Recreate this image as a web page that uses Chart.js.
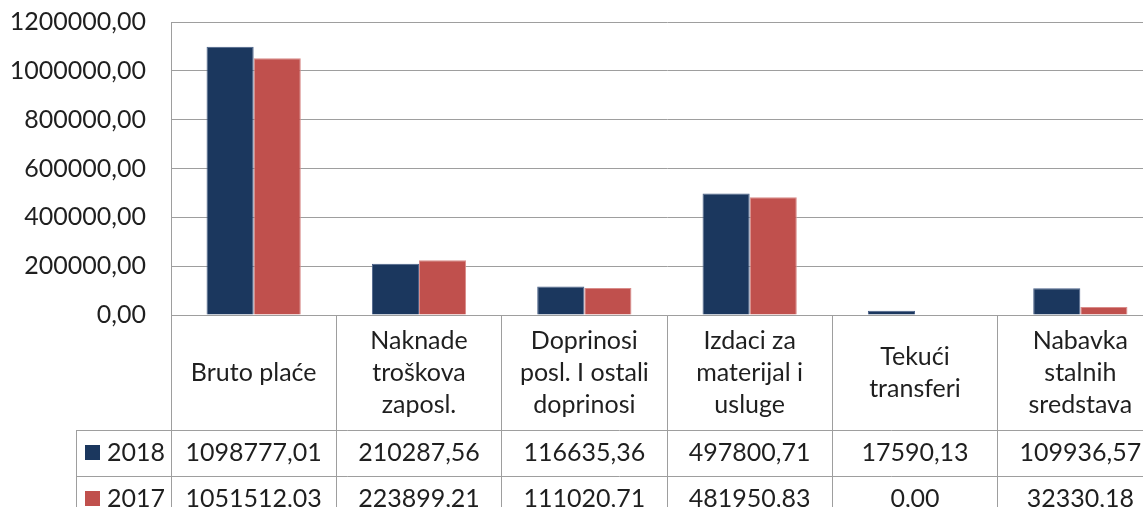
<!DOCTYPE html>
<html>
<head>
<meta charset="utf-8">
<script src="https://cdn.jsdelivr.net/npm/chart.js@4.4.1/dist/chart.umd.min.js"></script>
<style>
  html, body { margin: 0; padding: 0; background: #fff; overflow: hidden; }
  #wrap { width: 1163px; height: 507px; }
</style>
</head>
<body>
<div id="wrap"><canvas id="budgetChart" width="1163" height="507"></canvas></div>
<script>
// podaci
var categories = [
    ["Bruto plaće"],
    ["Naknade", "troškova", "zaposl."],
    ["Doprinosi", "posl. I ostali", "doprinosi"],
    ["Izdaci za", "materijal i", "usluge"],
    ["Tekući", "transferi"],
    ["Nabavka", "stalnih", "sredstava"]
];
var seriesNames = ["2018", "2017"];
var values2018 = [1098777.01, 210287.56, 116635.36, 497800.71, 17590.13, 109936.57];
var values2017 = [1051512.03, 223899.21, 111020.71, 481950.83, 0.00, 32330.18];
var yTicks = [0, 200000, 400000, 600000, 800000, 1000000, 1200000];

var navy = "#1b375e";
var red = "#c0504d";
var lineGray = "#9e9e9e";
var textColor = "#1f1f1f";
var fontFamily = "Lato, 'Open Sans', sans-serif";
var fontSize = 25;

function fmt(v) {
    return v.toFixed(2).replace(".", ",");
}

// tablica podataka ispod grafa
var dataTable = {
    id: "dataTable",
    afterDraw: function (chart) {
        var ctx = chart.ctx;
        var x = chart.scales.x;
        var area = chart.chartArea;
        var rowTop = 430, rowH = 46, legendLeft = 76;
        var rows = [values2018, values2017];
        var colors = [navy, red];

        ctx.save();
        ctx.strokeStyle = lineGray;
        ctx.lineWidth = 1;
        ctx.beginPath();
        ctx.moveTo(legendLeft, rowTop + 0.5);
        ctx.lineTo(area.right, rowTop + 0.5);
        ctx.moveTo(legendLeft, rowTop + rowH + 0.5);
        ctx.lineTo(area.right, rowTop + rowH + 0.5);
        ctx.moveTo(legendLeft + 0.5, rowTop);
        ctx.lineTo(legendLeft + 0.5, chart.height);
        ctx.stroke();

        ctx.fillStyle = textColor;
        ctx.font = fontSize + "px " + fontFamily;
        ctx.textAlign = "center";
        ctx.textBaseline = "middle";

        // nazivi kategorija
        var labelMid = (area.bottom + rowTop) / 2;
        var lineH = 32;
        categories.forEach(function (lines, i) {
            var cx = x.getPixelForValue(i);
            var y0 = labelMid - (lines.length - 1) * lineH / 2;
            lines.forEach(function (t, j) {
                ctx.fillText(t, cx, y0 + j * lineH);
            });
        });

        // vrijednosti i legenda
        rows.forEach(function (vals, r) {
            var cy = rowTop + rowH * r + rowH / 2;
            ctx.textAlign = "center";
            ctx.fillStyle = textColor;
            vals.forEach(function (v, i) {
                ctx.fillText(fmt(v), x.getPixelForValue(i), cy);
            });
            ctx.fillStyle = colors[r];
            ctx.fillRect(85, cy - 8, 15, 15);
            ctx.fillStyle = textColor;
            ctx.textAlign = "left";
            ctx.fillText(seriesNames[r], 107, cy);
        });
        ctx.restore();
    }
};

var config = {
    type: "bar",
    data: {
        labels: categories.map(function (c) { return c.join(" "); }),
        datasets: [{
            label: seriesNames[0],
            data: values2018,
            backgroundColor: navy,
            borderColor: "#4a6188",
            borderWidth: 1
        }, {
            label: seriesNames[1],
            data: values2017,
            backgroundColor: red,
            borderColor: "#d98b89",
            borderWidth: 1
        }]
    },
    options: {
        responsive: false,
        animation: false,
        layout: { padding: { top: 22, right: 0, left: 0, bottom: 0 } },
        categoryPercentage: 0.57,
        barPercentage: 1.0,
        plugins: {
            legend: { display: false },
            tooltip: { enabled: false }
        },
        scales: {
            x: {
                ticks: { display: false },
                grid: {
                    offset: true,
                    drawOnChartArea: false,
                    drawTicks: true,
                    tickLength: 192,
                    color: lineGray,
                    lineWidth: 1
                },
                border: { display: true, color: lineGray, width: 1 },
                afterFit: function (scale) {
                    scale.height = 192;
                    scale.paddingLeft = 0;
                    scale.paddingRight = 0;
                }
            },
            y: {
                min: 0,
                max: 1200000,
                afterBuildTicks: function (scale) {
                    scale.ticks = yTicks.map(function (v) { return { value: v }; });
                },
                ticks: {
                    color: textColor,
                    font: { family: fontFamily, size: fontSize },
                    padding: 25,
                    callback: function (v) { return fmt(v); }
                },
                grid: { color: lineGray, lineWidth: 1, drawTicks: false },
                border: { display: true, color: lineGray, width: 1 },
                afterFit: function (scale) {
                    scale.width = 171;
                    scale.paddingTop = 0;
                    scale.paddingBottom = 0;
                }
            }
        }
    },
    plugins: [dataTable]
};

var budgetChart = new Chart(document.getElementById("budgetChart"), config);
</script>
</body>
</html>
